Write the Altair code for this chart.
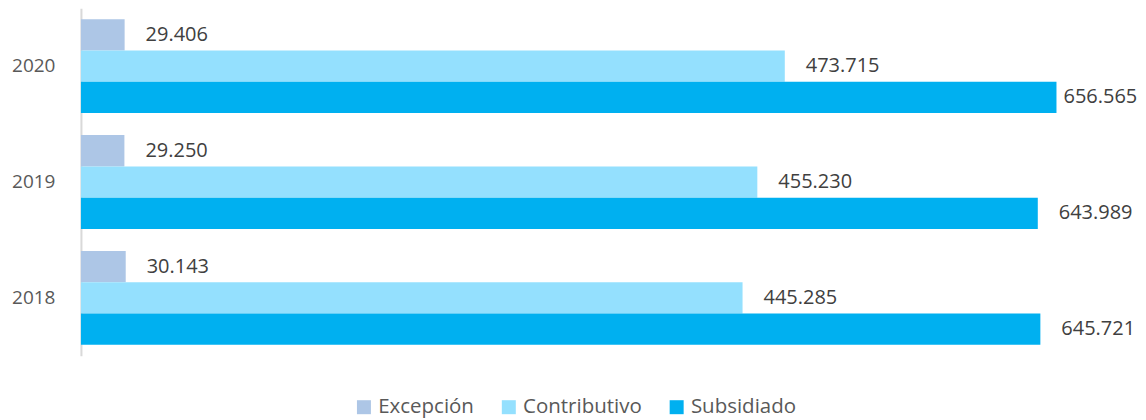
import altair as alt
import pandas as pd

years = ["2020", "2019", "2018"]
series = ["Excepción", "Contributivo", "Subsidiado"]
excepcion = [29406, 29250, 30143]
contributivo = [473715, 455230, 445285]
subsidiado = [656565, 643989, 645721]
colors = ["#ADC6E6", "#94E0FE", "#00B0F0"]

rows = []
for i, y in enumerate(years):
    for s, vals in zip(series, [excepcion, contributivo, subsidiado]):
        v = vals[i]
        rows.append({"year": y, "series": s, "value": v,
                     "label": f"{v:,}".replace(",", ".")})
df = pd.DataFrame(rows)

FONT = "Open Sans"

y_enc = alt.Y("year:N", sort=years, title=None,
              scale=alt.Scale(paddingInner=0.19, paddingOuter=0.095),
              axis=alt.Axis(domainColor="#D9D9D9", domainWidth=2, ticks=False,
                            labelFont=FONT, labelFontSize=19, labelColor="#595959",
                            labelPadding=26, minExtent=73, maxExtent=73))
yoff = alt.YOffset("series:N", sort=series)
x_enc = alt.X("value:Q", scale=alt.Scale(domain=[0, 700000], nice=False), axis=None)

base = alt.Chart(df)

bars = base.mark_bar(cornerRadius=0).encode(
    y=y_enc, yOffset=yoff, x=x_enc,
    color=alt.Color("series:N", sort=series,
                    scale=alt.Scale(domain=series, range=colors),
                    legend=alt.Legend(title=None, orient="none", direction="horizontal",
                                      legendX=273, legendY=389,
                                      symbolType="square", symbolSize=196,
                                      symbolStrokeWidth=0, labelFont=FONT,
                                      labelFontSize=20.5, labelColor="#595959",
                                      labelOffset=4, columnPadding=24)),
)

txt_props = dict(align="left", baseline="middle", font=FONT, fontSize=20, color="#404040")

labels_main = base.transform_filter(
    "!(datum.year == '2020' && datum.series == 'Subsidiado')"
).mark_text(dx=21, **txt_props).encode(
    y=y_enc, yOffset=yoff, x=x_enc, text="label:N")

labels_edge = base.transform_filter(
    "datum.year == '2020' && datum.series == 'Subsidiado'"
).mark_text(dx=7, **txt_props).encode(
    y=y_enc, yOffset=yoff, x=x_enc, text="label:N")

chart = alt.layer(bars, labels_main, labels_edge).properties(
    width=1041, height=348,
    padding={"left": 0, "top": 0, "right": 0, "bottom": 0},
).configure_view(stroke=None)

chart.save("out.html", embed_options={"renderer": "svg", "actions": False})
